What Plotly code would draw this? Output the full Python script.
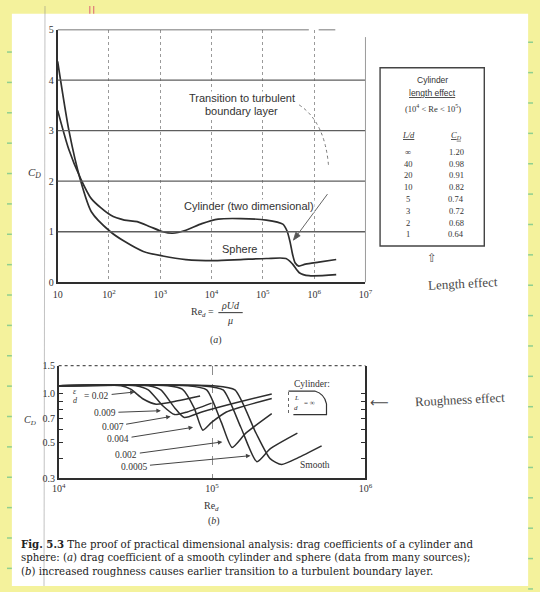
import math
import plotly.graph_objects as go

W, H = 540, 592
INK = "#2e2e2e"
SERIF = "Liberation Serif"
SANS = "Liberation Sans"

# ---------------- (a) smooth cylinder and sphere ----------------
cyl_re = [10, 16.6, 27.5, 45.7, 107, 200, 355, 631, 1120, 1740, 3160, 6460,
          13500, 37000, 117000, 245000, 295000, 339000, 380000, 427000,
          501000, 676000, 1.23e6, 2.69e6]
cyl_cd = [3.40, 2.62, 2.07, 1.65, 1.33, 1.23, 1.20, 1.10, 1.00, 0.97, 1.03, 1.16,
          1.25, 1.26, 1.23, 1.15, 1.02, 0.80, 0.55, 0.38,
          0.32, 0.36, 0.40, 0.45]

sph_re = [10, 16.6, 27.5, 45.7, 107, 200, 468, 1120, 3160, 11500, 37000,
          117000, 282000, 380000, 513000, 794000, 2.69e6]
sph_cd = [4.37, 3.00, 2.04, 1.39, 1.00, 0.81, 0.61, 0.52, 0.45, 0.43, 0.45,
          0.47, 0.47, 0.36, 0.19, 0.13, 0.15]

re_a_ticks = [10, 1e2, 1e3, 1e4, 1e5, 1e6, 1e7]
re_a_labels = ["10", "10<sup>2</sup>", "10<sup>3</sup>", "10<sup>4</sup>",
               "10<sup>5</sup>", "10<sup>6</sup>", "10<sup>7</sup>"]
cd_a_ticks = [0, 1, 2, 3, 4, 5]

# cylinder length effect (10^4 < Re < 10^5)
length_ratio = ["∞", "40", "20", "10", "5", "3", "2", "1"]
length_cd = [1.20, 0.98, 0.91, 0.82, 0.74, 0.72, 0.68, 0.64]

# ---------------- (b) roughness effect ----------------
re_e002 = [1.0e4, 2.55e4, 2.95e4, 3.56e4, 4.32e4, 5.96e4, 8.36e4]
cd_e002 = [1.125, 1.125, 1.07, 0.93, 0.863, 0.906, 0.972]

re_e0009 = [1.0e4, 3.18e4, 3.84e4, 4.77e4, 5.70e4, 6.89e4, 9.93e4]
cd_e0009 = [1.125, 1.125, 1.06, 0.845, 0.745, 0.773, 0.877]

re_e0007 = [1.0e4, 3.84e4, 4.64e4, 5.70e4, 6.59e4, 8.57e4, 1.43e5, 2.45e5]
cd_e0007 = [1.125, 1.125, 1.06, 0.822, 0.714, 0.773, 0.881, 1.0]

re_e0004 = [1.0e4, 5.14e4, 6.40e4, 7.64e4, 8.71e4, 9.93e4, 1.24e5, 2.45e5]
cd_e0004 = [1.125, 1.125, 1.07, 0.82, 0.596, 0.666, 0.773, 0.938]

re_e0002 = [1.0e4, 6.89e4, 9.22e4, 1.15e5, 1.35e5, 1.66e5, 2.45e5]
cd_e0002 = [1.125, 1.125, 1.06, 0.666, 0.466, 0.571, 0.755]

re_e00005 = [1.0e4, 8.57e4, 1.18e5, 1.54e5, 1.96e5, 2.39e5, 3.60e5]
cd_e00005 = [1.125, 1.125, 1.06, 0.621, 0.38, 0.456, 0.571]

re_smooth = [1.0e4, 1.02e5, 1.41e5, 1.92e5, 2.39e5, 2.84e5, 3.60e5, 5.18e5]
cd_smooth = [1.125, 1.125, 1.06, 0.58, 0.397, 0.365, 0.40, 0.476]

rough_labels = ["= 0.02", "0.009", "0.007", "0.004", "0.002", "0.0005"]
# point on each curve that its label arrow touches
rough_tip_re = [3.13e4, 4.64e4, 5.37e4, 7.52e4, 1.167e5, 1.78e5]
rough_tip_cd = [1.028, 0.787, 0.724, 0.621, 0.504, 0.414]

re_b_ticks = [1e4, 1e5, 1e6]
re_b_labels = ["10<sup>4</sup>", "10<sup>5</sup>", "10<sup>6</sup>"]
cd_b_ticks = [0.3, 0.5, 0.7, 1.0, 1.5]
cd_b_labels = ["0.3", "0.5", "0.7", "1.0", "1.5"]
cd_b_minor = [0.4, 0.6, 0.8, 0.9]


def px(x):
    return x / W


def py(y):
    return 1 - y / H


fig = go.Figure()

line_a = dict(color=INK, width=1.7, shape="spline", smoothing=0.7)
fig.add_trace(go.Scatter(x=cyl_re, y=cyl_cd, mode="lines", line=line_a,
                         xaxis="x", yaxis="y", hoverinfo="skip"))
fig.add_trace(go.Scatter(x=sph_re, y=sph_cd, mode="lines", line=line_a,
                         xaxis="x", yaxis="y", hoverinfo="skip"))

line_b = dict(color=INK, width=1.5, shape="spline", smoothing=0.6)
for rx, cy in [(re_e002, cd_e002), (re_e0009, cd_e0009), (re_e0007, cd_e0007),
               (re_e0004, cd_e0004), (re_e0002, cd_e0002),
               (re_e00005, cd_e00005), (re_smooth, cd_smooth)]:
    fig.add_trace(go.Scatter(x=rx, y=cy, mode="lines", line=line_b,
                             xaxis="x2", yaxis="y2", hoverinfo="skip"))

tick_font = dict(family=SERIF, size=10, color="#333")

fig.update_layout(
    width=W, height=H,
    margin=dict(l=0, r=0, t=0, b=0),
    paper_bgcolor="#f4f29c",
    plot_bgcolor="rgba(0,0,0,0)",
    showlegend=False,
    xaxis=dict(type="log", range=[1, 7], domain=[px(52), px(368)], anchor="y",
               tickvals=re_a_ticks, ticktext=re_a_labels, ticks="",
               showgrid=True, gridcolor="#9a9a9a", griddash="dot", gridwidth=1,
               showline=True, linecolor=INK, linewidth=1.6, zeroline=False,
               tickfont=tick_font, ticklabelstandoff=2),
    yaxis=dict(range=[0, 5], domain=[py(282), py(24)], anchor="x",
               tickvals=cd_a_ticks, ticks="", showgrid=False,
               showline=True, linecolor=INK, linewidth=1.6, zeroline=False,
               tickfont=tick_font),
    xaxis2=dict(type="log", range=[4, 6], domain=[px(53), px(368)], anchor="y2",
                tickvals=re_b_ticks, ticktext=re_b_labels, ticks="",
                showgrid=True, gridcolor="#8c8c8c", griddash="dash", gridwidth=1,
                showline=True, linecolor=INK, linewidth=1.5, zeroline=False,
                tickfont=tick_font),
    yaxis2=dict(type="log", range=[math.log10(0.3), math.log10(1.5)],
                domain=[py(482), py(367)], anchor="x2",
                tickvals=cd_b_ticks, ticktext=cd_b_labels,
                ticks="inside", ticklen=5, tickcolor=INK, tickwidth=1.2,
                minor=dict(tickvals=cd_b_minor, ticks="inside", ticklen=5,
                           tickcolor=INK, tickwidth=1.2, showgrid=False),
                mirror="ticks", showgrid=False, showline=True, linecolor=INK,
                linewidth=1.5, zeroline=False, tickfont=tick_font),
)

shapes = []
# white page on the yellow notebook sheet
shapes.append(dict(type="rect", xref="paper", yref="paper", layer="below",
                   x0=px(5), x1=px(535), y0=py(592), y1=py(8),
                   fillcolor="white", line=dict(width=0)))
# notebook margin marks
for k in range(19):
    yy = 47 + 31 * k
    shapes.append(dict(type="line", xref="paper", yref="paper", layer="below",
                       x0=0, x1=px(5), y0=py(yy), y1=py(yy),
                       line=dict(color="#8fcf8f", width=1.5)))
    yr = 37 + 31 * k
    shapes.append(dict(type="line", xref="paper", yref="paper", layer="below",
                       x0=px(535), x1=1, y0=py(yr), y1=py(yr),
                       line=dict(color="#8fcf8f", width=1.5)))
for xr in (85, 89):
    shapes.append(dict(type="line", xref="paper", yref="paper", layer="below",
                       x0=px(xr), x1=px(xr), y0=1, y1=py(8),
                       line=dict(color="#e07a7a", width=1.2)))
# faint fold line through the page
shapes.append(dict(type="line", xref="paper", yref="paper", layer="below",
                   x0=px(39), x1=px(38), y0=1, y1=0,
                   line=dict(color="rgba(120,120,120,0.45)", width=1)))

# (a) horizontal grid lines
for yv in (1, 2, 3, 4):
    shapes.append(dict(type="line", xref="x domain", yref="y",
                       x0=0, x1=1, y0=yv, y1=yv,
                       line=dict(color="#5e5e5e", width=1.3)))
# (a) top border, broken near the right
shapes.append(dict(type="line", xref="x domain", yref="y", x0=0, x1=0.816,
                   y0=5, y1=5, line=dict(color="#4a4a4a", width=1.5)))
shapes.append(dict(type="line", xref="x domain", yref="y", x0=0.848, x1=0.902,
                   y0=5, y1=5, line=dict(color="#4a4a4a", width=1.5)))
# (a) faint right border
shapes.append(dict(type="line", xref="x domain", yref="y domain", x0=1, x1=1,
                   y0=0, y1=0.97, line=dict(color="#9a9a9a", width=1)))
# dotted leader from the transition label
shapes.append(dict(type="path", xref="paper", yref="paper",
                   path=f"M {px(300)} {py(101)} Q {px(326)} {py(118)} {px(330)} {py(162)}",
                   line=dict(color="#777", width=1, dash="dot")))
# solid end of that leader, ending in an arrow head
shapes.append(dict(type="line", xref="paper", yref="paper",
                   x0=px(329), y0=py(192), x1=px(297), y1=py(235),
                   line=dict(color="#666", width=1)))
shapes.append(dict(type="path", xref="paper", yref="paper",
                   path=(f"M {px(294)} {py(239)} L {px(296.5)} {py(231)} "
                         f"L {px(301)} {py(234.5)} Z"),
                   fillcolor="#555", line=dict(color="#555", width=0.8)))
# (b) dotted top border
shapes.append(dict(type="line", xref="x2 domain", yref="y2 domain",
                   x0=0, x1=1, y0=1, y1=1,
                   line=dict(color="#555", width=1.3, dash="dot")))
# table frame
shapes.append(dict(type="rect", xref="paper", yref="paper",
                   x0=px(383), x1=px(490), y0=py(245), y1=py(63),
                   line=dict(color="#444", width=1.4)))
# fraction bar in the Reynolds-number title
shapes.append(dict(type="line", xref="paper", yref="paper",
                   x0=px(217), x1=px(242), y0=py(313), y1=py(313),
                   line=dict(color="#333", width=1)))
# cylinder sketch in (b)
sketch = (f"M {px(289)} {py(393)} L {px(316)} {py(393)} "
          f"Q {px(326)} {py(396)} {px(328)} {py(406)} L {px(328)} {py(417)} "
          f"L {px(294)} {py(417)}")
shapes.append(dict(type="path", xref="paper", yref="paper", path=sketch,
                   line=dict(color="#333", width=1.2)))
shapes.append(dict(type="line", xref="paper", yref="paper",
                   x0=px(289), x1=px(289), y0=py(394), y1=py(416),
                   line=dict(color="#666", width=1, dash="dot")))
fig.update_layout(shapes=shapes)

ann = []


def label(x, y, text, size=10, family=SANS, color="#333", xanchor="center",
          bg=None, **kw):
    d = dict(xref="paper", yref="paper", x=px(x), y=py(y), text=text,
             showarrow=False, xanchor=xanchor, yanchor="middle",
             font=dict(family=family, size=size, color=color))
    if bg:
        d["bgcolor"] = bg
        d["borderpad"] = 0
    d.update(kw)
    ann.append(d)


# (a) labels
label(28, 170, "<i>C<sub>D</sub></i>", size=11, family=SERIF)
label(241, 94, "Transition to turbulent", size=11, bg="white")
label(241, 107, "boundary layer", size=11, bg="white")
label(248, 204, "Cylinder (two dimensional)", size=11, bg="white")
label(239, 248, "Sphere", size=11, bg="white")
label(201, 313, "Re<sub><i>d</i></sub> =", size=10, family=SERIF)
label(229, 306, "<i>ρUd</i>", size=10, family=SERIF)
label(229, 321, "<i>μ</i>", size=10, family=SERIF)
label(215, 341, "(<i>a</i>)", size=10, family=SERIF)

# length-effect table
label(437, 76, "Cylinder", size=8.5)
label(437, 89, "<u>length effect</u>", size=8.5)
label(437, 105, "(10<sup>4</sup> &lt; Re &lt; 10<sup>5</sup>)", size=8.5,
      family=SERIF)
label(412, 132, "<i><u>L/d</u></i>", size=8.5, family=SERIF)
label(461, 132, "<i><u>C<sub>D</sub></u></i>", size=8.5, family=SERIF)
for i, (ld, cd) in enumerate(zip(length_ratio, length_cd)):
    yy = 149 + 12 * i
    label(412, yy, ld, size=8.5, family=SERIF)
    label(461, yy, f"{cd:.2f}", size=8.5, family=SERIF)

# handwritten notes
label(436, 257, "⇧", size=12, family="DejaVu Sans", color="#555")
label(468, 283, "Length effect", size=13, family=SERIF, color="#4a4a4a",
      textangle=-3)
label(382, 405, "⟵", size=13, family="DejaVu Sans", color="#4a4a4a")
label(465, 402, "Roughness effect", size=13, family=SERIF, color="#4a4a4a",
      textangle=-3)

# (b) labels
label(24, 423, "<i>C<sub>D</sub></i>", size=10, family=SERIF)
label(210, 511, "Re<sub><i>d</i></sub>", size=10, family=SERIF)
label(213, 526, "(<i>b</i>)", size=10, family=SERIF)
label(313, 386, "Cylinder:", size=9.5, family=SERIF)
label(316, 468, "Smooth", size=9.5, family=SERIF)
label(297, 400, "<i>L</i>", size=7, family=SERIF)
label(297, 410, "<i>d</i>", size=7, family=SERIF)
label(311, 405, "= ∞", size=7, family=SERIF)
label(70, 393, "<i>ε</i>", size=8, family=SERIF)
label(70, 403, "<i>d</i>", size=8, family=SERIF)

# roughness labels, each with an arrow onto its curve
rough_text_px = [(93, 398), (102, 415), (110, 429), (116, 442), (125, 458),
                 (134, 470)]
rough_tip_px = [(131, 394), (158, 413), (168, 419), (191, 430), (221, 445),
                (250, 459)]
for i, lab in enumerate(rough_labels):
    (tx, ty), (kx, ky) = rough_text_px[i], rough_tip_px[i]
    ann.append(dict(xref="x2", yref="y2",
                    x=math.log10(rough_tip_re[i]), y=math.log10(rough_tip_cd[i]),
                    ax=tx - kx, ay=ty - ky, text=lab, showarrow=True,
                    arrowhead=2, arrowsize=0.9, arrowwidth=1, arrowcolor="#444",
                    standoff=0, startstandoff=1,
                    font=dict(family=SERIF, size=9.5, color="#333")))

# caption
cap = ("<b>Fig. 5.3</b> The proof of practical dimensional analysis: drag coefficients of a cylinder and<br>"
       "sphere: (<i>a</i>) drag coefficient of a smooth cylinder and sphere (data from many sources);<br>"
       "(<i>b</i>) increased roughness causes earlier transition to a turbulent boundary layer.")
label(12, 562.5, cap, size=10.2, family="DejaVu Serif", color="#222",
      xanchor="left", align="left")

fig.update_layout(annotations=ann)
fig.write_html("out.html")
